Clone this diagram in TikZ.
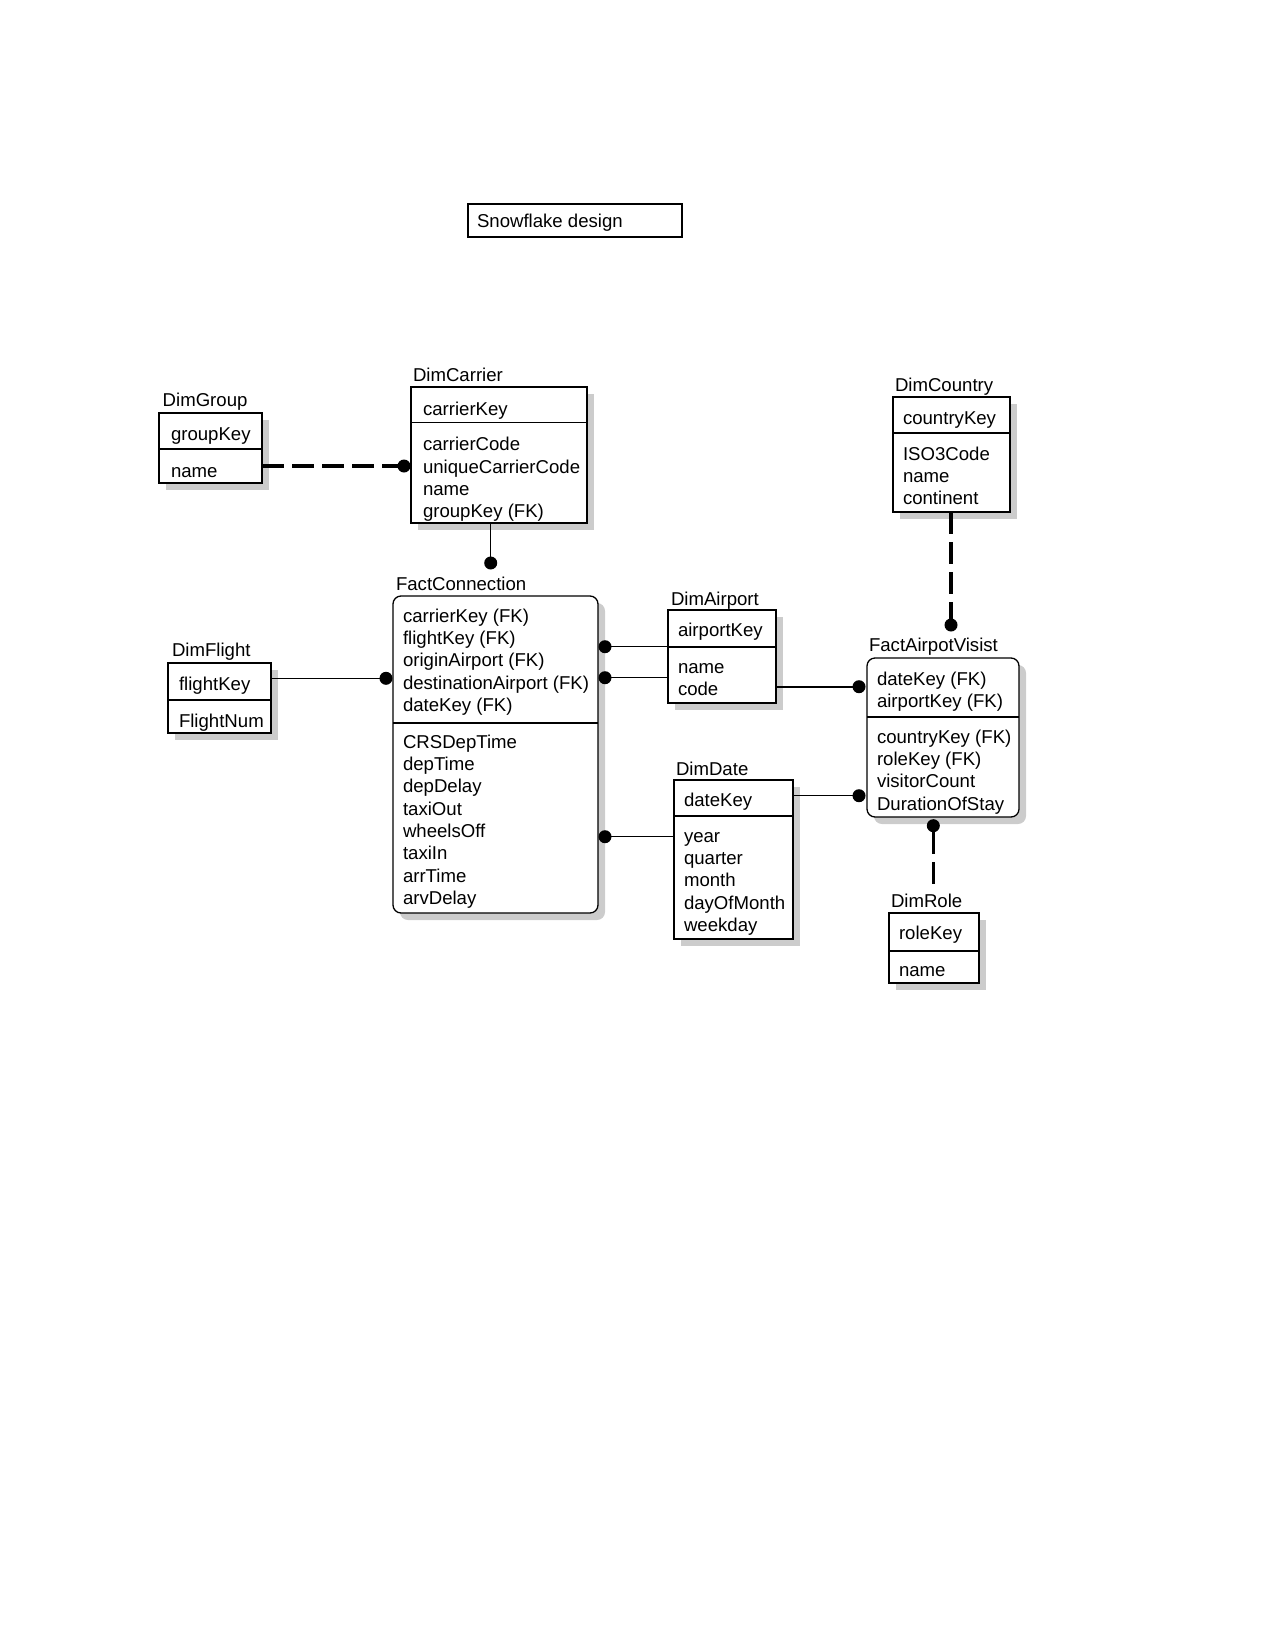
\documentclass[tikz,border=0pt]{standalone}
\usepackage{fontspec}
\setmainfont{Liberation Sans}
\usetikzlibrary{backgrounds}
\newcommand\shadowof[2][0pt]{%
  \begin{pgfonlayer}{background}
    \fill[shadowc, rounded corners=#1] ([shift={(7,7)}]#2.north west) rectangle ([shift={(7,7)}]#2.south east);
  \end{pgfonlayer}}
\begin{document}
\begin{tikzpicture}[x=1pt,y=-1pt,
  every node/.style={font=\fontsize{18.6}{22}\selectfont, inner sep=0pt, outer sep=0pt},
  ebox/.style={draw, line width=1.6pt, fill=white, anchor=north west},
  fbox/.style={draw, line width=1.3pt, fill=white, rounded corners=8pt, anchor=north west},
  etitle/.style={anchor=base west},
  fld/.style={anchor=base west},
  div/.style={line width=1.5pt},
  thinc/.style={line width=1pt},
  thickc/.style={line width=1.8pt},
  thickd/.style={line width=3.3pt, dash pattern=on 22pt off 8pt},
  dot/.style={circle, fill=black, minimum size=13pt, inner sep=0pt},
  shadowc/.style={fill=black!20}]
\useasboundingbox (0,0) rectangle (1275,1651);

% Title
\node[ebox, line width=1.3pt, minimum width=214pt, minimum height=33pt] (title) at (468,204) {};
\node[fld] (titletext) at (477,227.5) {Snowflake design};

% DimGroup
\node[etitle] (grpL) at (162.7,406.7) {DimGroup};
\node[ebox, minimum width=103pt, minimum height=70pt] (grp) at (159,413) {};
\shadowof{grp}
\draw[div] (159,449) -- (262,449);
\node[fld] (grp1) at (171,440.5) {groupKey};
\node[fld] (grp2) at (171,477) {name};

% DimCarrier
\node[etitle] (carL) at (413,381.7) {DimCarrier};
\node[ebox, minimum width=176pt, minimum height=136pt] (car) at (411,387) {};
\shadowof{car}
\draw[div] (411,422.3) -- (587,422.3);
\node[fld] (car1) at (423,415) {carrierKey};
\foreach \t [count=\i] in {carrierCode, uniqueCarrierCode, name, groupKey (FK)}
  \node[fld] (car2-\i) at (423,{450.7+(\i-1)*22.3}) {\t};

% DimCountry
\node[etitle] (ctyL) at (895,391.7) {DimCountry};
\node[ebox, minimum width=117pt, minimum height=115pt] (cty) at (893,397) {};
\shadowof{cty}
\draw[div] (893,433) -- (1010,433);
\node[fld] (cty1) at (903,424) {countryKey};
\foreach \t [count=\i] in {ISO3Code, name, continent}
  \node[fld] (cty2-\i) at (903,{460+(\i-1)*22.3}) {\t};

% FactConnection
\node[etitle] (fcL) at (396,590) {FactConnection};
\node[fbox, minimum width=205pt, minimum height=317pt] (fc) at (393,596) {};
\shadowof[8pt]{fc}
\draw[line width=1.3pt] (393,723) -- (598,723);
\foreach \t [count=\i] in {carrierKey (FK), flightKey (FK), originAirport (FK), destinationAirport (FK), dateKey (FK)}
  \node[fld] (fc1-\i) at (403,{622.3+(\i-1)*22.3}) {\t};
\foreach \t [count=\i] in {CRSDepTime, depTime, depDelay, taxiOut, wheelsOff, taxiIn, arrTime, arvDelay}
  \node[fld] (fc2-\i) at (403,{748.3+(\i-1)*22.3}) {\t};

% DimAirport
\node[etitle] (aptL) at (671,605) {DimAirport};
\node[ebox, minimum width=108pt, minimum height=93pt] (apt) at (668,610) {};
\shadowof{apt}
\draw[div] (668,647) -- (776,647);
\node[fld] (apt1) at (678,636) {airportKey};
\foreach \t [count=\i] in {name, code}
  \node[fld] (apt2-\i) at (678,{673.3+(\i-1)*22.3}) {\t};

% DimFlight
\node[etitle] (fltL) at (172,656.7) {DimFlight};
\node[ebox, minimum width=103pt, minimum height=70pt] (flt) at (168,663) {};
\shadowof{flt}
\draw[div] (168,700) -- (271,700);
\node[fld] (flt1) at (179,690.7) {flightKey};
\node[fld] (flt2) at (179,727.3) {FlightNum};

% DimDate
\node[etitle] (datL) at (676,775) {DimDate};
\node[ebox, minimum width=119pt, minimum height=159pt] (dat) at (674,780) {};
\shadowof{dat}
\draw[div] (674,816) -- (793,816);
\node[fld] (dat1) at (684,806.7) {dateKey};
\foreach \t [count=\i] in {year, quarter, month, dayOfMonth, weekday}
  \node[fld] (dat2-\i) at (684,{842+(\i-1)*22.4}) {\t};

% FactAirpotVisist
\node[etitle] (faL) at (869,651.7) {FactAirpotVisist};
\node[fbox, minimum width=152pt, minimum height=159pt] (fa) at (867,658) {};
\shadowof[8pt]{fa}
\draw[line width=1.3pt] (867,717) -- (1019,717);
\foreach \t [count=\i] in {dateKey (FK), airportKey (FK)}
  \node[fld] (fa1-\i) at (877,{685+(\i-1)*22.3}) {\t};
\foreach \t [count=\i] in {countryKey (FK), roleKey (FK), visitorCount, DurationOfStay}
  \node[fld] (fa2-\i) at (877,{743.3+(\i-1)*22.3}) {\t};

% DimRole
\node[etitle] (rolL) at (891,907.3) {DimRole};
\node[ebox, minimum width=90pt, minimum height=70pt] (rol) at (889,913) {};
\shadowof{rol}
\draw[div] (889,951) -- (979,951);
\node[fld] (rol1) at (899,939.3) {roleKey};
\node[fld] (rol2) at (899,976) {name};

% Connectors
\node[dot] (d1) at (404,466) {};
\draw[thickd] (grp.east |- d1) -- (d1.center);

\node[dot] (d2) at (490.7,563) {};
\draw[thinc] (d2 |- car.south) -- (d2.center);

\node[dot] (d3) at (386,678.3) {};
\draw[thinc] (flt.east |- d3) -- (d3.center);

\node[dot] (d4) at (605,646.7) {};
\draw[thinc] (d4.center) -- (apt.west |- d4);

\node[dot] (d5) at (605,677.7) {};
\draw[thinc] (d5.center) -- (apt.west |- d5);

\node[dot] (d6) at (605,836.7) {};
\draw[thinc] (d6.center) -- (dat.west |- d6);

\node[dot] (d7) at (859,686.7) {};
\draw[thickc] (apt.east |- d7) -- (d7.center);

\node[dot] (d8) at (859,795.7) {};
\draw[thinc] (dat.east |- d8) -- (d8.center);

\node[dot] (d9) at (951,625) {};
\draw[thickd] (cty.south -| d9) -- (d9.center);

\node[dot] (d10) at (933.3,825.7) {};
\coordinate (r10) at (933.3,888);
\draw[thickd] (d10.south) -- (r10);
\end{tikzpicture}
\end{document}
